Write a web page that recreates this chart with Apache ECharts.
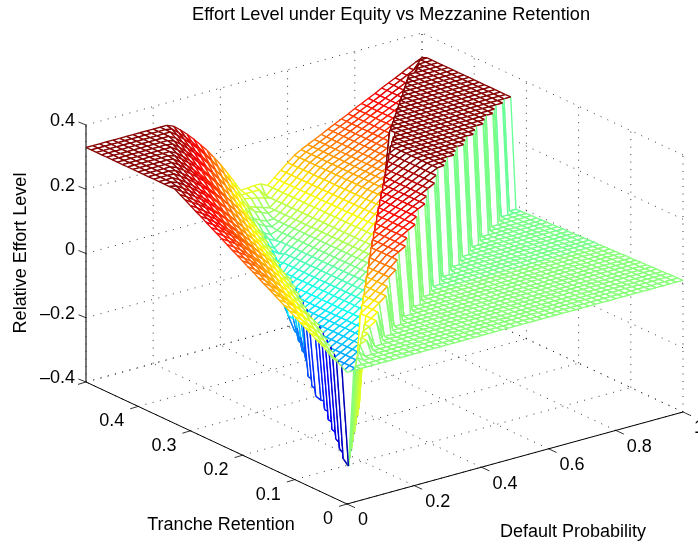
<!DOCTYPE html>
<html><head><meta charset="utf-8"><style>html,body{margin:0;padding:0;background:#fff}#c{width:698px;height:545px}</style>
<script src="https://cdn.jsdelivr.net/npm/echarts@6/dist/echarts.min.js"></script></head>
<body><div id="c"></div><script>
// ---- values; heights are in hundredths of an effort unit ----
const titleText = 'Effort Level under Equity vs Mezzanine Retention';
const xTicks = [0, 0.2, 0.4, 0.6, 0.8, 1];
const yTicks = [0, 0.1, 0.2, 0.3, 0.4, 0.5];
const zTicks = [-0.4, -0.2, 0, 0.2, 0.4];
const xStep = 0.02, yStep = 0.01;
const plateauZ = 33;
// flat floor of the surface, by row
const flatByRow = [1,.9,.9,.8,.7,.7,.6,.5,.5,.4,.3,.3,.2,.1,.1,0,-.1,-.1,-.2,-.3,-.3,-.4,-.5,-.5,-.6,-.7,-.7,-.8,-.9,-.9,-1,-1.1,-1.2,-1.2];
// shelf height above the cliff, by column
const shelfByCol = [1,1.3,1.7,2.3,3,3.7,4.5,5.2,6,7.3,8.7,10.2,11.8,13.4,15,16.7,18.5,19.6,20.8,22,23.2,24.3,25.4,26.5,27.5,28.5,29.6,30.7,31.8,32.8,33,33,33,33,33,33,33,33,33,33,33,33,33,33,33,33,33,33,33,33,33];
// rear sheet height, by column
const backByCol = [-30,-29.5,-28.2,-27,-25.7,-24.5,-23.2,-21.9,-20.7,-19.4,-18.2,-16.5,-15.2,-14,-12.8,-11.6,-10.4,-9.3,-8,-6.6,-5.2,-3.7,-2.2,-.7,.8,2.2,3.8,5.7,7.5,9.3,11.1,12.8,14,15,16,17,18.1,19.1,20.1,21.1,22.2,23.2,24.2,25.2,26.3,27.3,28.3,29.3,30.4,31.4,32.4];
// first row of the shelf and first row of the rear sheet, by column
const cliffRow = [0,1,2,2,3,4,4,5,6,6,7,8,8,9,10,10,11,12,12,13,14,14,15,16,16,17,18,18,19,20,20,21,22,22,23,24,24,25,26,26,27,28,28,29,30,30,31,32,32,33,33];
const seamRow = [0,1,2,3,4,5,6,7,8,10,11,12,13,14,15,16,17,18,19,20,21,22,23,24,25,26,27,28,29,30,31,32,34,35,36,37,38,39,40,41,42,43,44,45,46,47,47,48,49,50,50];
// leading columns at the plateau in each row
const plateauCols = [0,0,0,0,0,0,0,0,0,0,0,0,0,0,0,0,0,0,0,0,0,0,0,0,0,0,0,0,0,0,0,0,0,0,1,2,3,3,4,5,6,6,7,8,9,9,10,11,12,12,13];
// descending front slope in each row, after the plateau columns
const slopeRows = [
[1],[2],[2.9,-28],[3.9,1.7],[4.9,1.7,-27],[5.9,4.2,1.8],[6.8,4.8,1.8,-26],[7.8,6.3,4.4,1.9],[8.8,7.1,4.8,1.9,-25.2],[9.7,8.3,6.6,4.5,2],
[10.7,9.2,7.2,4.8,2,-24.2],[11.7,10.4,8.8,6.8,4.6,2.1],[12.6,11.2,9.4,7.3,4.9,2.1,-23.2],[13.6,12.3,10.8,9,7,4.7,2.2],[14.6,13.2,11.6,9.6,7.4,5,2.2,-22.3],
[15.6,14.1,12.3,10.3,7.9,5.2,2.3,-21.8],[16.5,15.2,13.6,11.8,9.8,7.5,5,2.3,-21.3],[17.5,16.1,14.4,12.5,10.3,7.9,5.3,2.4,-20.8],[18.5,17.2,15.7,14,12.1,10,7.6,5.1,2.4,-20.4],[19.4,18,16.4,14.6,12.6,10.4,8,5.3,2.5,-19.9],
[20.4,19.1,17.7,16,14.2,12.2,10.1,7.7,5.2,2.5,-19.4],
[21.4,20,18.5,16.8,14.9,12.8,10.5,8,5.4,2.6,-12.5,-18.9],
[22.3,21,19.6,18,16.3,14.4,12.4,10.2,7.8,5.3,2.6,-18.4],
[23.3,22,20.5,18.8,17,15,12.9,10.6,8.1,5.5,2.7,-11.8,-18],
[24.3,23,21.7,20.1,18.4,16.6,14.7,12.6,10.3,7.9,5.4,2.7,-17.5],
[25.3,24,22.5,20.9,19.2,17.3,15.2,13.1,10.7,8.2,5.5,2.8,-11,-17],
[26.2,25,23.6,22.1,20.5,18.7,16.8,14.8,12.7,10.4,8,5.5,2.8,-16.5],
[27.2,25.9,24.5,22.9,21.3,19.4,17.5,15.4,13.1,10.8,8.3,5.6,2.9,-10.3,-16],
[28.2,26.9,25.4,23.8,22,20.1,18.1,15.9,13.6,11.1,8.5,5.8,2.9,-10,-15.6],
[29.1,27.8,26.4,24.9,23.3,21.5,19.6,17.6,15.5,13.2,10.8,8.3,5.7,3,-9.7,-15.1],
[30.1,28.8,27.3,25.8,24.1,22.2,20.3,18.2,16,13.7,11.2,8.6,5.8,3,-9.3,-14.6],
[31.1,29.8,28.5,27,25.4,23.7,21.8,19.9,17.8,15.6,13.4,11,8.4,5.8,3.1,-9,-14.1],
[32,30.7,29.3,27.8,26.1,24.3,22.4,20.4,18.3,16.1,13.7,11.2,8.6,5.9,3.1,-8.2,-13],
[33,31.7,30.4,28.9,27.4,25.7,23.9,22,20,18,15.7,13.4,11,8.5,5.9,3.2,-7.4,-12],
[32.6,31.3,29.9,28.3,26.6,24.8,22.9,20.8,18.6,16.4,14,11.4,8.8,6,3.2,-6.7,-11],
[32.3,31,29.5,27.9,26.3,24.5,22.6,20.6,18.4,16.2,13.8,11.4,8.8,6.1,3.3,-6,-10],
[31.9,30.5,28.9,27.2,25.4,23.4,21.3,19.1,16.8,14.3,11.8,9.1,6.2,3.3,-5.2,-8.9],
[32.9,31.6,30.2,28.6,26.9,25.1,23.1,21.1,18.9,16.6,14.2,11.7,9,6.3,3.4,-4.4,-7.8],
[32.6,31.1,29.6,27.8,26,24,21.9,19.7,17.3,14.8,12.2,9.4,6.4,3.4,-3.7,-6.7],
[32.2,30.8,29.2,27.5,25.7,23.7,21.6,19.4,17.1,14.6,12,9.3,6.4,3.5,-2.9,-5.7],
[31.8,30.2,28.5,26.6,24.6,22.5,20.2,17.8,15.3,12.5,9.7,6.7,3.5,-1,-3,-4.6],
[32.8,31.3,29.6,27.7,25.7,23.5,21.2,18.7,16,13.2,10.2,7.1,3.8,-.5,-2.2,-3.5],
[32.5,30.9,29.2,27.4,25.4,23.3,21,18.6,16,13.2,10.3,7.3,4.1,0,-1.5,-2.5],
[32,30.3,28.5,26.5,24.3,22,19.5,16.8,14,11,7.8,4.4,1,-.3,-1.4],
[31.6,30,28.2,26.2,24.1,21.8,19.3,16.7,13.9,11,8,4.7,1.7,.5,-.3],
[32.7,31.1,29.3,27.3,25.2,22.8,20.3,17.6,14.7,11.7,8.4,5,2.7,1.6,.7],
[32.3,30.7,28.9,27,24.9,22.6,20.1,17.5,14.7,11.8,8.6,5.3,3.5,2.6,1.8],
[31.9,30.1,28.2,26,23.7,21.1,18.4,15.5,12.4,9.1,5.6,4.2,3.5,2.8],
[31.5,29.7,27.8,25.7,23.4,20.9,18.3,15.5,12.5,9.3,5.9,5.5,5,4.5],
[32.6,30.9,29,26.8,24.5,22,19.2,16.3,13.1,9.8,6.2,6.2,6.2,6.2],
[32.2,30.5,28.6,26.5,24.2,21.8,19.1,16.3,13.2,9.9,6.5,6.6,6.8,6.8]
];
const zMinColor = -33, zMaxColor = 33;

// ---- table for the mesh ----
const heightAt = (i, j) => {
  const lead = plateauCols[j], row = slopeRows[j];
  if (i < lead) return plateauZ;
  if (i - lead < row.length) return row[i - lead];
  if (j >= seamRow[i]) return backByCol[i];
  if (j >= cliffRow[i]) return shelfByCol[i];
  return flatByRow[j];
};
const nCols = backByCol.length, nRows = slopeRows.length;
const project = (x, y, z) => [347 + 336 * x - 522 * y, 504 - 92 * x - 244 * y - 321.25 * (z + 0.4)];
const node = (i, j) => project(i * xStep, j * yStep, heightAt(i, j) / 100);
const jet = z => {
  const raw = (z - zMinColor) / (zMaxColor - zMinColor);
  const f = (Math.min(63, Math.floor(Math.max(0, raw) * 64)) + 0.5) / 64;
  const c = v => Math.round(255 * Math.min(1, Math.max(0, 1.5 - Math.abs(4 * f - v))));
  return `rgb(${c(3)},${c(2)},${c(1)})`;
};
const cells = [];
for (let j = nRows - 2; j >= 0; j--) for (let i = nCols - 2; i >= 0; i--) cells.push([i, j]);

const segments = [];
const xMax = xTicks[xTicks.length - 1], yMax = yTicks[yTicks.length - 1], zLo = zTicks[0], zHi = zTicks[zTicks.length - 1];
xTicks.forEach(x => {
  segments.push([[x, 0, zLo], [x, yMax, zLo]]);
  segments.push([[x, yMax, zLo], [x, yMax, zHi]]);
});
yTicks.forEach(y => {
  segments.push([[0, y, zLo], [xMax, y, zLo]]);
  segments.push([[xMax, y, zLo], [xMax, y, zHi]]);
});
zTicks.forEach(z => {
  segments.push([[0, yMax, z], [xMax, yMax, z]]);
  segments.push([[xMax, 0, z], [xMax, yMax, z]]);
});

const axisLines = [
  {a: [0, 0, zLo], b: [xMax, 0, zLo], w: 1, c: '#000'},
  {a: [0, 0, zLo], b: [0, yMax, zLo], w: 1, c: '#000'},
  {a: [0, yMax, zLo], b: [0, yMax, zHi], w: 1.3, c: '#333'}
];
const tickMarks = [];
xTicks.forEach(x => tickMarks.push({p: project(x, 0, zLo), d: [8, 3.7]}));
yTicks.forEach(y => tickMarks.push({p: project(0, y, zLo), d: [-8, 2.4]}));
zTicks.forEach(z => tickMarks.push({p: project(0, yMax, z), d: [-7.5, -3]}));

const labelFmt = v => (v < 0 ? '\u2013' : '') + String(Math.abs(v));
const labels = [];
xTicks.forEach(x => labels.push({t: labelFmt(x), p: project(x, 0, zLo), o: [11, 16.5], a: 'left'}));
yTicks.forEach(y => { if (y < yMax) labels.push({t: labelFmt(y), p: project(0, y, zLo), o: [-14, 15], a: 'right'}); });
zTicks.forEach(z => labels.push({t: labelFmt(z), p: project(0, yMax, z), o: [-11, -3.5], a: 'right'}));

const textStyle = (x, y, t, size, align) => ({type: 'text', x, y, style: {text: t, fontFamily: 'Liberation Sans', fontSize: size, fill: '#000', align, verticalAlign: 'middle'}});
const fontBig = 18;

const chart = echarts.init(document.getElementById('c'), null, {renderer: 'canvas'});
chart.setOption({
  animation: false,
  backgroundColor: '#fff',
  title: {text: titleText, left: 386, top: 10, textAlign: 'center', textVerticalAlign: 'middle',
    textStyle: {fontFamily: 'Liberation Sans', fontWeight: 'normal', fontSize: 18.2, color: '#000'}},
  grid: {left: 0, right: 0, top: 0, bottom: 0},
  xAxis: {type: 'value', min: 0, max: 698, show: false},
  yAxis: {type: 'value', min: 0, max: 545, inverse: true, show: false},
  series: [
    {type: 'custom', silent: true, clip: false, data: segments.map((s, k) => [k]), encode: {x: 0}, renderItem: (p, api) => {
      const s = segments[p.dataIndex];
      const a = api.coord(project(...s[0])), b = api.coord(project(...s[1]));
      return {type: 'line', shape: {x1: a[0], y1: a[1], x2: b[0], y2: b[1]}, style: {stroke: '#222', lineWidth: 0.9, lineDash: [1, 6.5], fill: null}};
    }},
    {type: 'custom', silent: true, clip: false, progressive: 0, data: cells, encode: {x: 0, y: 1}, renderItem: (p, api) => {
      const [i, j] = cells[p.dataIndex];
      const A = api.coord(node(i, j)), B = api.coord(node(i + 1, j)), C = api.coord(node(i + 1, j + 1)), D = api.coord(node(i, j + 1));
      const lw = 1.35;
      const seg = (P, Q, col) => ({type: 'polyline', shape: {points: [P, Q]}, style: {stroke: col, lineWidth: lw, fill: null}});
      return {type: 'group', children: [
        {type: 'polygon', shape: {points: [A, B, C, D]}, style: {fill: '#fff', stroke: null}},
        seg(B, C, jet(heightAt(i + 1, j))),
        seg(D, C, jet(heightAt(i + 1, j + 1))),
        seg(A, B, jet(heightAt(i + 1, j))),
        seg(A, D, jet(heightAt(i, j)))
      ]};
    }},
    {type: 'custom', silent: true, clip: false, data: [[0]], encode: {x: 0}, renderItem: (p, api) => {
      const kids = [];
      axisLines.forEach(l => {
        const a = api.coord(project(...l.a)), b = api.coord(project(...l.b));
        kids.push({type: 'line', shape: {x1: a[0], y1: a[1], x2: b[0], y2: b[1]}, style: {stroke: l.c, lineWidth: l.w}});
      });
      tickMarks.forEach(t => {
        const a = api.coord(t.p);
        kids.push({type: 'line', shape: {x1: a[0], y1: a[1], x2: a[0] + t.d[0], y2: a[1] + t.d[1]}, style: {stroke: '#000', lineWidth: 0.8}});
      });
      labels.forEach(l => {
        const a = api.coord(l.p);
        kids.push(textStyle(a[0] + l.o[0], a[1] + l.o[1], l.t, fontBig, l.a));
      });
      const t1 = api.coord([221, 525]), t2 = api.coord([573, 532]), t3 = api.coord([21, 253]);
      kids.push(textStyle(t1[0], t1[1], 'Tranche Retention', fontBig, 'center'));
      kids.push(textStyle(t2[0], t2[1], 'Default Probability', fontBig, 'center'));
      kids.push({type: 'text', x: t3[0], y: t3[1], rotation: Math.PI / 2,
        style: {text: 'Relative Effort Level', fontFamily: 'Liberation Sans', fontSize: fontBig, fill: '#000', align: 'center', verticalAlign: 'middle'}});
      return {type: 'group', children: kids};
    }}
  ]
});
</script></body></html>
